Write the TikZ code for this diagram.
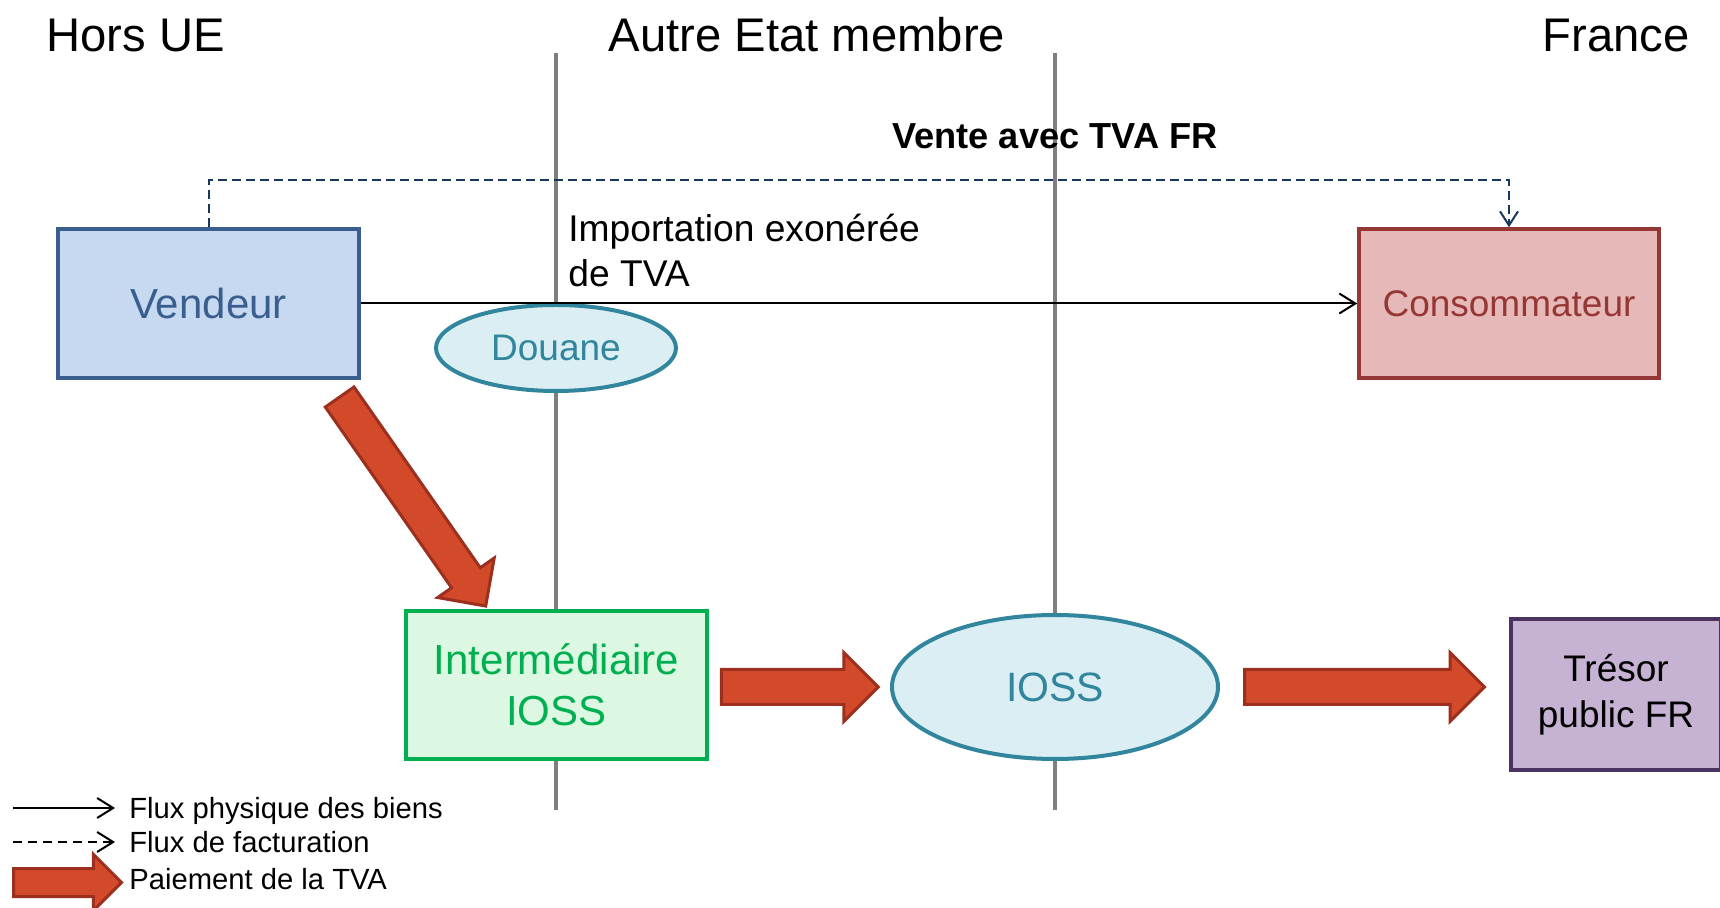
\documentclass[tikz,border=0pt]{standalone}
\usepackage{fontspec}
\setmainfont{Liberation Sans}
\usetikzlibrary{shapes.geometric,shapes.arrows,arrows.meta,calc}

\definecolor{vfill}{HTML}{C6D9F1}
\definecolor{vline}{HTML}{3A5F8F}
\definecolor{cfill}{HTML}{E6B9B8}
\definecolor{cline}{HTML}{953735}
\definecolor{efill}{HTML}{DAEEF3}
\definecolor{eline}{HTML}{31859C}
\definecolor{ifill}{HTML}{DCF7E2}
\definecolor{iline}{HTML}{00B050}
\definecolor{tfill}{HTML}{C6B2D3}
\definecolor{tline}{HTML}{4A3360}
\definecolor{payfill}{HTML}{D24A2A}
\definecolor{payline}{HTML}{9C2F1D}
\definecolor{border}{HTML}{7F7F7F}
\definecolor{billcol}{HTML}{17375E}

\newcommand\fsz[2]{\fontsize{#1}{#2}\selectfont}

\begin{document}
\begin{tikzpicture}[x=0.5pt,y=-0.5pt,
  every node/.style={inner sep=0pt},
  zone/.style={font=\fsz{23.6}{28}},
  frontier/.style={draw=border,line width=2.2pt},
  entity/.style={draw,line width=1.8pt,align=center},
  office/.style={ellipse,draw=eline,fill=efill,text=eline,line width=2pt},
  phys/.style={draw=black,line width=1pt,-{Straight Barb[length=8pt,width=10pt]}},
  bill/.style={draw=billcol,line width=1pt,dash pattern=on 4.5pt off 2.5pt,
    -{Straight Barb[length=7pt,width=9pt]}},
  legtext/.style={font=\fsz{14.6}{17},anchor=base west},
  pay/.style={single arrow,draw=payline,fill=payfill,line width=1.5pt,
    inner xsep=0pt,inner ysep=8pt,single arrow head extend=8.5pt},
]
\clip (0,0) rectangle (1720,908);

% zone headers
\node[zone,anchor=base west] (hors) at (46,52) {Hors UE};
\node[zone,anchor=base] (autre) at (807,52) {Autre Etat membre};
\node[zone,anchor=base east] (france) at (1690,52) {France};

% frontiers between zones
\coordinate (f1top) at (556,53);
\coordinate (f1bot) at (556,810);
\coordinate (f2top) at (1055,53);
\coordinate (f2bot) at (1055,810);
\draw[frontier] (f1top) -- (f1bot);
\draw[frontier] (f2top) -- (f2bot);

% actors
\node[entity,draw=vline,fill=vfill,text=vline,font=\fsz{21}{25},
  minimum width=150.5pt,minimum height=74.5pt] (vendeur) at (208.5,303.5) {Vendeur};
\node[entity,draw=cline,fill=cfill,text=cline,font=\fsz{18.5}{22},
  minimum width=150pt,minimum height=74.5pt] (conso) at (1509,303.5) {Consommateur};
\node[office,font=\fsz{18.5}{22},minimum width=120pt,minimum height=43pt]
  (douane) at (556,348) {Douane};
\node[entity,draw=iline,fill=ifill,text=iline,font=\fsz{21}{25.5},
  minimum width=150.5pt,minimum height=74pt] (inter) at (556.5,685) {Intermédiaire\\IOSS};
\node[office,font=\fsz{20.5}{24},minimum width=163pt,minimum height=72pt]
  (ioss) at (1055,687) {IOSS};
\node[entity,draw=tline,fill=tfill,text=black,font=\fsz{18.5}{23},
  minimum width=105pt,minimum height=75.5pt] (tresor) at (1616,694.5) {Trésor\\public FR};

% labels
\node[font=\bfseries\fsz{18.1}{22},anchor=base] (vente) at (1055,149) {Vente avec TVA FR};
\node[font=\fsz{18.6}{22.5},align=left,anchor=base west] (import) at (568,287)
  {Importation exonérée\\de TVA};

% flows
\draw[phys] (vendeur.east) -- (conso.west);
\draw[bill] (vendeur.north) -- ++(0,-47) -| (conso.north);

% VAT payments
\node[pay,minimum height=127.5pt,rotate=-55.06,anchor=tail]
  (pay1) at ($(vendeur.south east)+(-22,16)$) {};
\node[pay,minimum height=78.5pt,anchor=tail] (pay2) at ($(inter.east)+(11,2)$) {};
\node[pay,minimum height=120pt,anchor=tail] (pay3) at ($(ioss.east)+(23,0)$) {};

% legend
\coordinate (ls1) at (13,808);
\coordinate (le1) at (115,808);
\coordinate (ls2) at (13,842);
\coordinate (le2) at (115,842);
\draw[phys] (ls1) -- (le1);
\draw[bill,draw=black,dash pattern=on 4.5pt off 3pt,
  -{Straight Barb[length=8pt,width=10pt]}] (ls2) -- (le2);
\node[pay,minimum height=54pt,inner ysep=6.25pt,single arrow head extend=7pt,
  anchor=tail] (leg3) at (12,882.5) {};
\node[legtext] (t1) at (129,818.5) {Flux physique des biens};
\node[legtext] (t2) at (129,852.5) {Flux de facturation};
\node[legtext] (t3) at (129,889.5) {Paiement de la TVA};
\end{tikzpicture}
\end{document}
